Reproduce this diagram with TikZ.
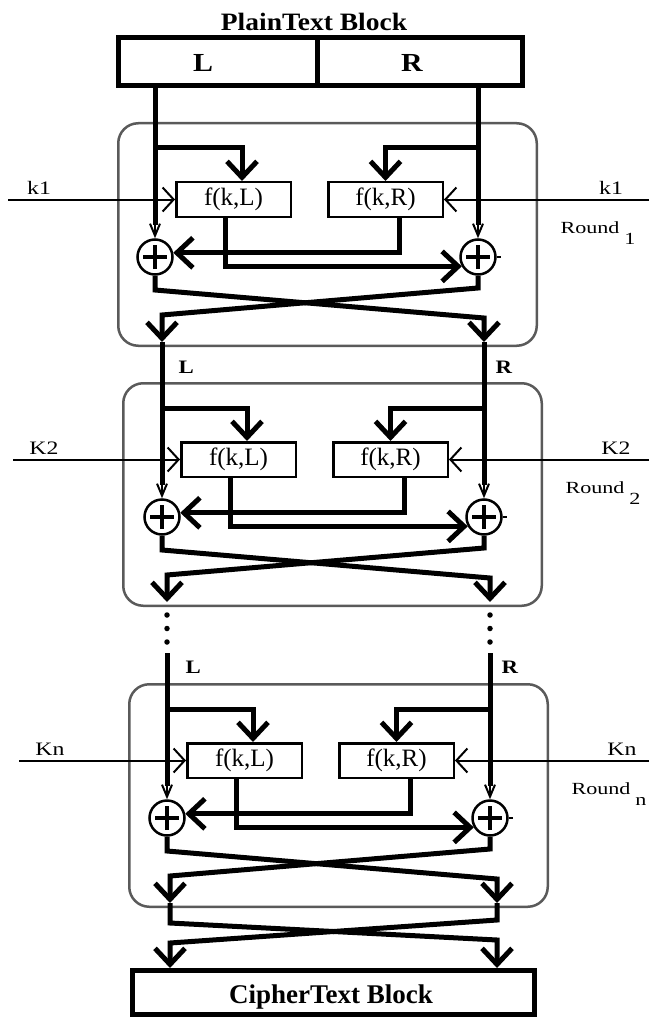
\documentclass[tikz,border=0pt]{standalone}
\usepackage{fontspec}
\setmainfont{Liberation Serif}
\usepackage{graphicx}
\usetikzlibrary{arrows.meta,calc}
\definecolor{boxgray}{HTML}{5A5A5A}
\tikzset{
  thk/.style={line width=5pt},
  thn/.style={line width=2pt},
  bigtip/.style={-{Straight Barb[length=16pt,width=30pt]}},
  keytip/.style={-{Straight Barb[length=11pt,width=24pt]}},
  xortip/.style={-{Straight Barb[length=12pt,width=10pt]}},
  fbox/.style={draw, line width=2.5pt, minimum width=114.5pt, minimum height=34.5pt, inner sep=0pt,
    font=\fontsize{25pt}{25pt}\selectfont},
  xor/.style={draw, circle, line width=2.5pt, minimum size=35pt, inner sep=0pt,
    path picture={
      \draw[line width=3.5pt] ([xshift=-12pt]path picture bounding box.center) -- ([xshift=12pt]path picture bounding box.center);
      \draw[line width=3.5pt] ([yshift=-12pt]path picture bounding box.center) -- ([yshift=12pt]path picture bounding box.center);}},
  rbox/.style={draw=boxgray, line width=2.5pt, rounded corners=20pt, minimum width=418.5pt,
    minimum height=222.5pt, anchor=north west, inner sep=0pt},
  blk/.style={draw, line width=5pt, inner sep=0pt, anchor=north west},
  keylbl/.style={anchor=base, font=\fontsize{19pt}{19pt}\selectfont},
  rndlbl/.style={anchor=base west, font=\fontsize{17pt}{17pt}\selectfont},
  lrlbl/.style={anchor=base west, font=\bfseries\fontsize{19pt}{19pt}\selectfont},
  dotline/.style={line width=5.5pt, line cap=round, dash pattern=on 0pt off 13.5pt},
}
% #1 id, #2 box x, #3 box y, #4 L x, #5 R x, #6 L out x, #7 R out x, #8 key, #9 round index
\newcommand{\feistelround}[9]{%
  \node[rbox] (#1box) at (#2,#3) {};
  \node[fbox] (#1fL) at (#2+116.5,#3+77.5) {f(k,L)};
  \node[fbox] (#1fR) at (#2+268.5,#3+77.5) {f(k,R)};
  \node[xor] (#1xL) at (#4,#3+135) {};
  \node[xor] (#1xR) at (#5,#3+135) {};
  \coordinate (#1Lt) at (#4,#3);
  \coordinate (#1Rt) at (#5,#3);
  \coordinate (#1bL) at (#4,#3+26);
  \coordinate (#1bR) at (#5,#3+26);
  \coordinate (#1kL) at (#2-109,#3+77.5);
  \coordinate (#1kR) at (649,#3+77.5);
  \coordinate (#1cL) at (#4,#3+168);
  \coordinate (#1cR) at (#5,#3+166);
  \coordinate (#1sL) at (#6,#3+193);
  \coordinate (#1sR) at (#7,#3+196);
  \coordinate (#1Lo) at (#6,#3+220);
  \coordinate (#1Ro) at (#7,#3+220);
  % main verticals into the XORs
  \draw[thk] (#1Lt) -- ([yshift=13pt]#1xL.north);
  \draw[thn,xortip] ([yshift=15pt]#1xL.north) -- (#1xL.north);
  \draw[thk] (#1Rt) -- ([yshift=13pt]#1xR.north);
  \draw[thn,xortip] ([yshift=15pt]#1xR.north) -- (#1xR.north);
  % branches into f boxes
  \draw[thk,bigtip] (#1bL) -| ([xshift=8.5pt]#1fL.north);
  \draw[thk,bigtip] (#1bR) -| (#1fR.north);
  % keys
  \draw[thn,keytip] (#1kL) -- (#1fL.west);
  \draw[thn,keytip] (#1kR) -- (#1fR.east);
  % f outputs into XORs
  \draw[thk,bigtip] ([xshift=-8.5pt]#1fL.south) |- (#1xR.210);
  \draw[thk,bigtip] ([xshift=13.5pt]#1fR.south) |- (#1xL.13);
  \draw[thn] (#1xR.east) -- ++(4,0);
  % swap
  \draw[thk,bigtip] (#1xL.south) -- (#1cL) -- (#1sR) -- (#1Ro);
  \draw[thk,bigtip] (#1xR.south) -- (#1cR) -- (#1sL) -- (#1Lo);
  % labels
  \node[keylbl] at (#2-78,#3+72) {\scalebox{1.25}[1]{#8}};
  \node[keylbl] at (#2+494,#3+72) {\scalebox{1.25}[1]{#8}};
  \node[rndlbl] at (#2+440,#3+111) {\scalebox{1.3}[1]{Round}\hspace{5pt}\raisebox{-11pt}{\scalebox{1.3}[1]{#9}}};
}
\begin{document}
\begin{tikzpicture}[x=1pt,y=-1pt]
\useasboundingbox (0,0) rectangle (649,1019);
% plaintext block
\node[anchor=base, font=\bfseries\fontsize{25pt}{25pt}\selectfont] (title) at (314,31) {\scalebox{1.1}[1]{PlainText Block}};
\node[blk, minimum width=198.5pt, minimum height=48pt] (Lblk) at (116,35) {};
\node[blk, minimum width=205.5pt, minimum height=48pt] (Rblk) at (314.5,35) {};
\node[anchor=base, font=\bfseries\fontsize{26pt}{26pt}\selectfont] (Ltxt) at (203,72) {\scalebox{1.15}[1]{L}};
\node[anchor=base, font=\bfseries\fontsize{26pt}{26pt}\selectfont] (Rtxt) at (412,72) {\scalebox{1.15}[1]{R}};

\feistelround{r1}{117}{122}{155}{478}{162}{484}{k1}{1}
\feistelround{r2}{122}{382}{162}{484}{167}{490}{K2}{2}
\feistelround{rn}{128}{683}{167}{490}{170}{497}{Kn}{n}

% links
\draw[thk] (Lblk.south -| r1Lt) -- (r1Lt);
\draw[thk] (Rblk.south -| r1Rt) -- (r1Rt);
\draw[thk] (r1Lo) -- (r2Lt);
\draw[thk] (r1Ro) -- (r2Rt);
\node[lrlbl] at (175,373) {\scalebox{1.2}[1]{L}};
\node[lrlbl] at (492,373) {\scalebox{1.2}[1]{R}};
% dotted gap
\coordinate (dL1) at (167,615);
\coordinate (dL3) at (167,643);
\coordinate (dR1) at (490,615);
\coordinate (dR3) at (490,643);
\draw[dotline] (dL1) -- (dL3);
\draw[dotline] (dR1) -- (dR3);
\coordinate (gL) at (167,653);
\coordinate (gR) at (490,653);
\draw[thk] (gL) -- (rnLt);
\draw[thk] (gR) -- (rnRt);
\node[lrlbl] at (182,673) {\scalebox{1.2}[1]{L}};
\node[lrlbl] at (498,673) {\scalebox{1.2}[1]{R}};

% ciphertext block
\node[blk, minimum width=402pt, minimum height=44pt] (cblk) at (130,968) {};
\node[anchor=base, font=\bfseries\fontsize{27pt}{27pt}\selectfont] (ctxt) at (331,1003) {CipherText Block};
\coordinate (fcL) at (170,923);
\coordinate (fsR) at (497,940);
\coordinate (fcR) at (497,920);
\coordinate (fsL) at (170,943);
\draw[thk,bigtip] (rnLo) -- (fcL) -- (fsR) -- (fsR |- cblk.north);
\draw[thk,bigtip] (rnRo) -- (fcR) -- (fsL) -- (fsL |- cblk.north);
\end{tikzpicture}
\end{document}
